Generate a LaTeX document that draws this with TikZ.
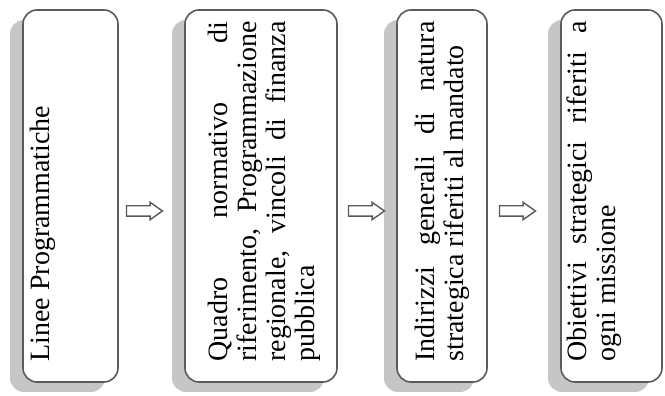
\documentclass[tikz,border=0pt]{standalone}
\usepackage{fontspec}
\setmainfont{Liberation Serif}
\usetikzlibrary{positioning, shapes.arrows, shadows}
\setlength{\parindent}{0pt}
\hyphenpenalty=10000
\tolerance=9999
\definecolor{bordo}{HTML}{5A5A5A}
\definecolor{ombra}{HTML}{C6C6C6}
\tikzstyle{blocco} = [rectangle, draw=bordo, line width=0.8pt, rounded corners=7pt, fill=white, minimum height=186pt, drop shadow={shadow xshift=-6.5pt, shadow yshift=-5pt, fill=ombra, opacity=1}]
\tikzstyle{testo} = [rotate=90, anchor=north west, inner sep=0pt, text width=170pt, align=justify, text=black, font=\fontsize{14pt}{14.5pt}\selectfont]
\tikzstyle{freccia} = [single arrow, draw=bordo, fill=white, line width=0.7pt, minimum height=18pt, minimum width=8.5pt, single arrow head extend=1.75pt, single arrow tip angle=70, inner sep=0pt]
\begin{document}
\begin{tikzpicture}[x=0.5pt, y=0.5pt]
\useasboundingbox (0,0) rectangle (665,396);

\node(linee)[blocco, minimum width=47.5pt] at (70.5,200) {};
\node(quadro)[blocco, minimum width=76pt] at (261,200) {};
\node(indirizzi)[blocco, minimum width=45pt] at (442,200) {};
\node(obiettivi)[blocco, minimum width=50.5pt] at (611.5,200) {};

\node(linee-t)[testo] at (30,34) {Linee Programmatiche};
\node(quadro-t)[testo] at (208,34) {Quadro normativo di riferimento, Programmazione regionale, vincoli di finanza pubblica};
\node(indirizzi-t)[testo] at (415,34) {Indirizzi generali di natura strategica riferiti al mandato};
\node(obiettivi-t)[testo] at (566,34) {Obiettivi strategici riferiti a ogni missione};

\node(f1)[freccia, right = 3.5pt of linee.east, yshift=-7.5pt]{\rule{0pt}{4.5pt}};
\node(f2)[freccia, right = 5pt of quadro.east, yshift=-7.5pt]{\rule{0pt}{4.5pt}};
\node(f3)[freccia, right = 5.5pt of indirizzi.east, yshift=-7.5pt]{\rule{0pt}{4.5pt}};

\end{tikzpicture}
\end{document}
